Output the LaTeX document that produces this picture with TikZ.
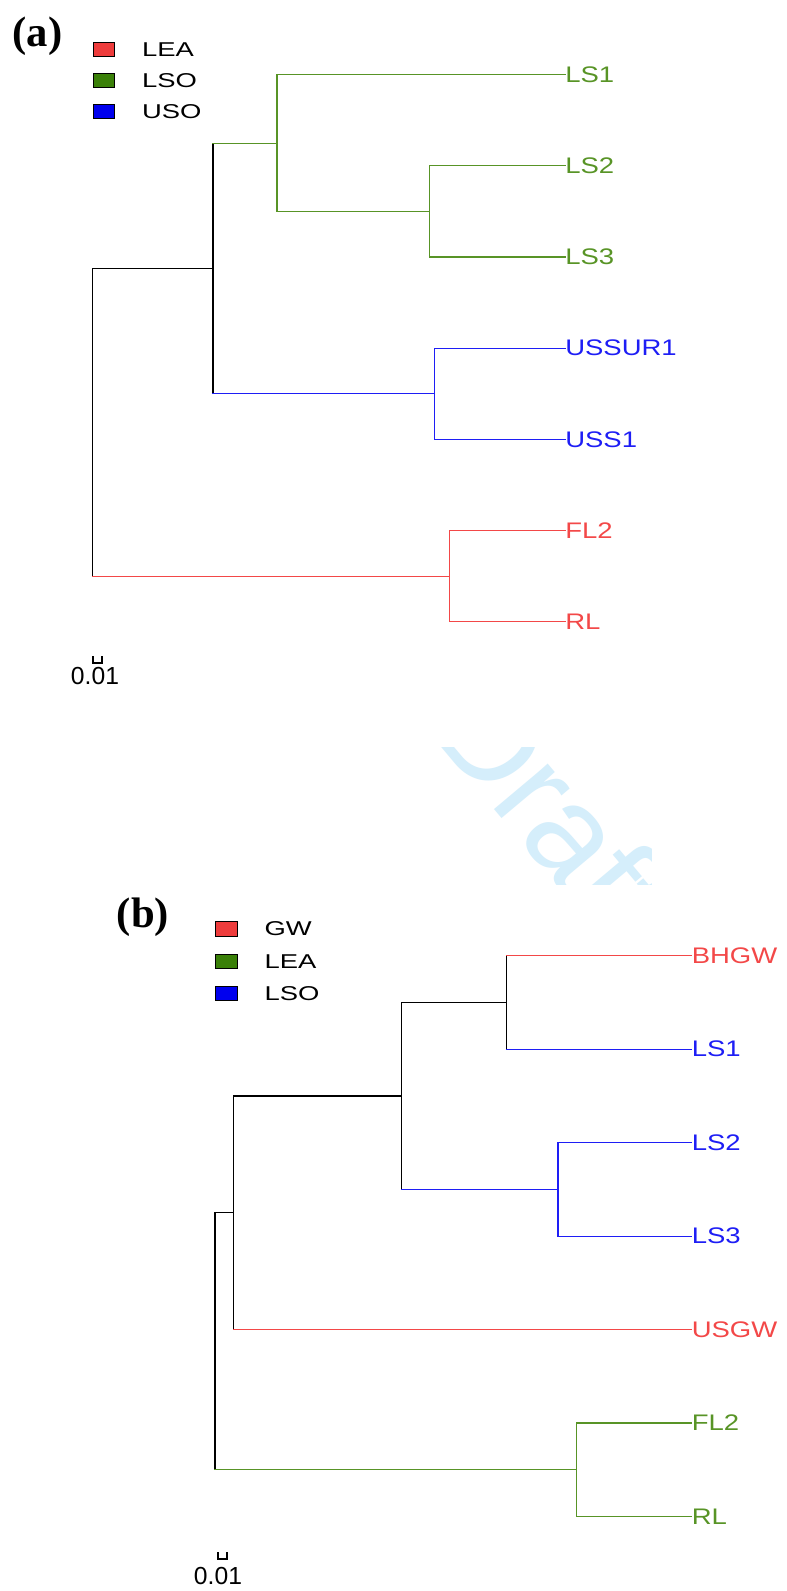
\documentclass[tikz,border=0pt]{standalone}
\usepackage{fontspec}
\setmainfont{Liberation Sans}
\newfontfamily\tipfont[FakeStretch=1.22]{Liberation Sans}
\newfontfamily\keyfont[FakeStretch=1.37]{Liberation Sans}
\newfontfamily\panelfont{Liberation Serif}
\usetikzlibrary{positioning}
\definecolor{treered}{RGB}{243,72,72}
\definecolor{treegreen}{RGB}{88,148,38}
\definecolor{treeblue}{RGB}{30,30,245}
\definecolor{keyred}{RGB}{238,60,60}
\definecolor{keygreen}{RGB}{58,128,8}
\definecolor{keyblue}{RGB}{0,0,238}
\definecolor{draftblue}{RGB}{213,238,251}

\begin{document}
\begin{tikzpicture}[x=0.75pt, y=-0.75pt,
    branch/.style={line width=0.9pt, line cap=rect},
    tip/.style={anchor=west, inner sep=0pt, font=\tipfont\fontsize{16.9}{18}\selectfont},
    keybox/.style={draw=black, line width=0.8pt, minimum width=16pt, minimum height=11pt, inner sep=0pt},
    keytext/.style={right=20pt of #1, inner sep=0pt, font=\keyfont\fontsize{15}{16}\selectfont},
    panel/.style={inner sep=0pt, font=\panelfont\bfseries\fontsize{32}{34}\selectfont},
    scaletext/.style={inner sep=0pt, font=\fontsize{18.5}{20}\selectfont}]
    \fill[white] (0,0) rectangle (786,1591);
    \useasboundingbox (0,0) rectangle (786,1591);

    % Watermark between the panels
    \begin{scope}
        \clip (0,747) rectangle (651,884);
        \node[rotate=-50, anchor=base west, inner sep=0pt, text=draftblue, font=\fontsize{100}{100}\selectfont] (draft) at (426,729) {Draft};
    \end{scope}

    % Panel (a) - legend
    \node[panel] (labela) at (37.5,36) {(a)};
    \node[keybox, fill=keyred] (keyleaa) at (104,49.5) {};
    \node[keybox, fill=keygreen] (keylsoa) at (104,80.5) {};
    \node[keybox, fill=keyblue] (keyusoa) at (104,111.5) {};
    \node[keytext=keyleaa] {LEA};
    \node[keytext=keylsoa] {LSO};
    \node[keytext=keyusoa] {USO};

    % Panel (a) - tips
    \node[tip, text=treegreen] (ls1a) at (565,74.5) {LS1};
    \node[tip, text=treegreen] (ls2a) at (565,165.7) {LS2};
    \node[tip, text=treegreen] (ls3a) at (565,256.9) {LS3};
    \node[tip, text=treeblue] (ussur1a) at (565,348.1) {USSUR1};
    \node[tip, text=treeblue] (uss1a) at (565,439.3) {USS1};
    \node[tip, text=treered] (fl2a) at (565,530.5) {FL2};
    \node[tip, text=treered] (rla) at (565,621.7) {RL};

    % Panel (a) - inner nodes
    \coordinate (rootA) at (92.5,422.2);
    \coordinate (a1) at (213,268.4);
    \coordinate (a2) at (277,143.3);
    \coordinate (a3) at (429.7,211.3);
    \coordinate (a4) at (434.3,393.7);
    \coordinate (a5) at (449.2,576.1);

    % Panel (a) - branches
    \draw[branch] (rootA |- a1) -- (rootA |- a5);
    \draw[branch] (rootA |- a1) -- (a1);
    \draw[branch, treered] (rootA |- a5) -- (a5);
    \draw[branch] (a1 |- a2) -- (a1 |- a4);
    \draw[branch, treegreen] (a1 |- a2) -- (a2);
    \draw[branch, treeblue] (a1 |- a4) -- (a4);
    \draw[branch, treegreen] (a2 |- ls1a.west) -- (a2 |- a3);
    \draw[branch, treegreen] (a2 |- ls1a.west) -- (ls1a.west);
    \draw[branch, treegreen] (a2 |- a3) -- (a3);
    \draw[branch, treegreen] (a3 |- ls2a.west) -- (a3 |- ls3a.west);
    \draw[branch, treegreen] (a3 |- ls2a.west) -- (ls2a.west);
    \draw[branch, treegreen] (a3 |- ls3a.west) -- (ls3a.west);
    \draw[branch, treeblue] (a4 |- ussur1a.west) -- (a4 |- uss1a.west);
    \draw[branch, treeblue] (a4 |- ussur1a.west) -- (ussur1a.west);
    \draw[branch, treeblue] (a4 |- uss1a.west) -- (uss1a.west);
    \draw[branch, treered] (a5 |- fl2a.west) -- (a5 |- rla.west);
    \draw[branch, treered] (a5 |- fl2a.west) -- (fl2a.west);
    \draw[branch, treered] (a5 |- rla.west) -- (rla.west);

    % Panel (a) - scale
    \node[scaletext] (scalea) at (95,676) {0.01};
    \draw[line width=0.8pt] (93,656) -- (93,663) -- (102,663) -- (102,656);

    % Panel (b) - legend
    \node[panel] (labelb) at (143,917) {(b)};
    \node[keybox, fill=keyred] (keygwb) at (226.5,929) {};
    \node[keybox, fill=keygreen] (keyleab) at (226.5,961.5) {};
    \node[keybox, fill=keyblue] (keylsob) at (226.5,993.5) {};
    \node[keytext=keygwb] {GW};
    \node[keytext=keyleab] {LEA};
    \node[keytext=keylsob] {LSO};

    % Panel (b) - tips
    \node[tip, text=treered] (bhgwb) at (691.5,955.8) {BHGW};
    \node[tip, text=treeblue] (ls1b) at (691.5,1049.2) {LS1};
    \node[tip, text=treeblue] (ls2b) at (691.5,1142.7) {LS2};
    \node[tip, text=treeblue] (ls3b) at (691.5,1236.1) {LS3};
    \node[tip, text=treered] (usgwb) at (691.5,1329.5) {USGW};
    \node[tip, text=treegreen] (fl2b) at (691.5,1423) {FL2};
    \node[tip, text=treegreen] (rlb) at (691.5,1516.4) {RL};

    % Panel (b) - inner nodes
    \coordinate (rootB) at (214.9,1341.2);
    \coordinate (b1) at (506.6,1002.5);
    \coordinate (b2) at (557.9,1189.4);
    \coordinate (b3) at (401.8,1096);
    \coordinate (b4) at (233.4,1212.8);
    \coordinate (b5) at (576.4,1469.7);

    % Panel (b) - branches
    \draw[branch] (rootB |- b4) -- (rootB |- b5);
    \draw[branch] (rootB |- b4) -- (b4);
    \draw[branch, treegreen] (rootB |- b5) -- (b5);
    \draw[branch] (b4 |- b3) -- (b4 |- usgwb.west);
    \draw[branch] (b4 |- b3) -- (b3);
    \draw[branch, treered] (b4 |- usgwb.west) -- (usgwb.west);
    \draw[branch] (b3 |- b1) -- (b3 |- b2);
    \draw[branch] (b3 |- b1) -- (b1);
    \draw[branch, treeblue] (b3 |- b2) -- (b2);
    \draw[branch] (b1 |- bhgwb.west) -- (b1 |- ls1b.west);
    \draw[branch, treered] (b1 |- bhgwb.west) -- (bhgwb.west);
    \draw[branch, treeblue] (b1 |- ls1b.west) -- (ls1b.west);
    \draw[branch, treeblue] (b2 |- ls2b.west) -- (b2 |- ls3b.west);
    \draw[branch, treeblue] (b2 |- ls2b.west) -- (ls2b.west);
    \draw[branch, treeblue] (b2 |- ls3b.west) -- (ls3b.west);
    \draw[branch, treegreen] (b5 |- fl2b.west) -- (b5 |- rlb.west);
    \draw[branch, treegreen] (b5 |- fl2b.west) -- (fl2b.west);
    \draw[branch, treegreen] (b5 |- rlb.west) -- (rlb.west);

    % Panel (b) - scale
    \node[scaletext] (scaleb) at (218,1576) {0.01};
    \draw[line width=0.8pt] (218,1552) -- (218,1559) -- (227,1559) -- (227,1552);
\end{tikzpicture}
\end{document}
